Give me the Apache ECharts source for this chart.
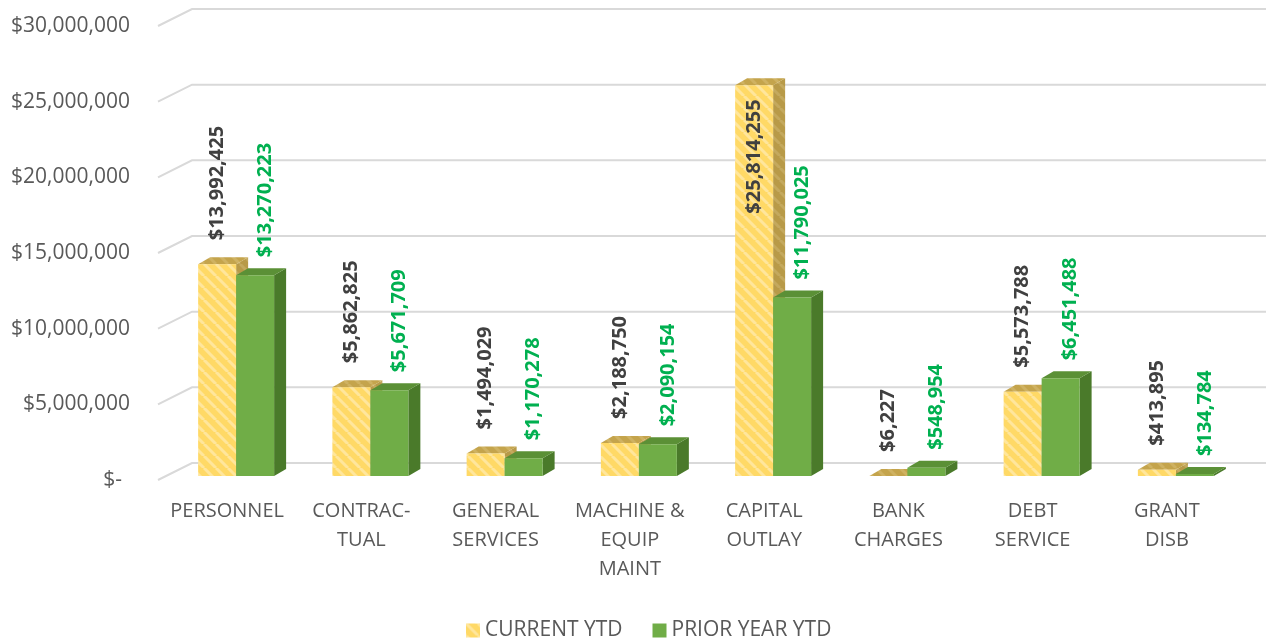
<!DOCTYPE html>
<html><head><meta charset="utf-8">
<script src="https://cdn.jsdelivr.net/npm/echarts@6/dist/echarts.min.js"></script>
<style>html,body{margin:0;padding:0;background:#fff}#c{width:1266px;height:640px}</style>
</head><body><div id="c"></div>
<script>
// ---- data ----
const categories = ['PERSONNEL', 'CONTRAC-\nTUAL', 'GENERAL\nSERVICES', 'MACHINE &\nEQUIP\nMAINT', 'CAPITAL\nOUTLAY', 'BANK\nCHARGES', 'DEBT\nSERVICE', 'GRANT\nDISB'];
const currentYTD = [13992425, 5862825, 1494029, 2188750, 25814255, 6227, 5573788, 413895];
const priorYTD = [13270223, 5671709, 1170278, 2090154, 11790025, 548954, 6451488, 134784];
const yTicks = [0, 5000000, 10000000, 15000000, 20000000, 25000000, 30000000];
const seriesNames = ['CURRENT YTD', 'PRIOR YEAR YTD'];

// ---- styles ----
const FONT = '"Open Sans", "Noto Sans", sans-serif';
function stripePattern(base, stripe, size, lw) {
  const c = document.createElement('canvas');
  c.width = c.height = size;
  const g = c.getContext('2d');
  g.fillStyle = base; g.fillRect(0, 0, size, size);
  g.strokeStyle = stripe; g.lineWidth = lw;
  g.beginPath();
  for (let k = -1; k <= 1; k++) { g.moveTo(k * size, 0); g.lineTo(k * size + size, size); }
  g.stroke();
  return { image: c, repeat: 'repeat' };
}
const yFront = stripePattern('#FFD966', '#FFE69C', 12, 3);
const ySide = stripePattern('#B89A48', '#C4A95E', 12, 3);
const yTop = stripePattern('#C4A44C', '#CFB262', 12, 3);
const styles = [
  { front: yFront, side: ySide, top: yTop, label: '#404040', lx: 0, gap: 24 },
  { front: '#70AD47', side: '#4A7A2A', top: '#5B9036', label: '#00B050', lx: 10, gap: 18 }
];
const DX = 12, DY = 7, SHIFT_Y = 4;
const measureCtx = document.createElement('canvas').getContext('2d');
const LABEL_FONT = 'bold 20px ' + FONT;

function fmt(v) { return '$' + Math.round(v).toLocaleString('en-US'); }

function barRender(si) {
  const st = styles[si];
  return function (params, api) {
    const i = api.value(0), v = api.value(1);
    const b = api.coord([i, 0]), t = api.coord([i, v]);
    const band = api.size([1, 0])[0];
    const w = band * 38 / 134.3;
    const cx = b[0] + band * 9 / 134.3;
    const x0 = si === 0 ? cx - w : cx;
    const yb = b[1] - SHIFT_Y, yt = t[1] - SHIFT_Y;
    const text = fmt(v);
    measureCtx.font = LABEL_FONT;
    const L = measureCtx.measureText(text).width;
    let ay = yt - st.gap, align = 'left';
    if (ay - L < 0) { ay = yt + 14; align = 'right'; }
    return {
      type: 'group',
      children: [
        { type: 'polygon', shape: { points: [[x0 + w, yt], [x0 + w + DX, yt - DY], [x0 + w + DX, yb - DY], [x0 + w, yb]] }, style: { fill: st.side } },
        { type: 'polygon', shape: { points: [[x0, yt], [x0 + w, yt], [x0 + w + DX, yt - DY], [x0 + DX, yt - DY]] }, style: { fill: st.top } },
        { type: 'rect', shape: { x: x0, y: yt, width: w, height: Math.max(0, yb - yt) }, style: { fill: st.front } },
        { type: 'text', x: x0 + w / 2 + st.lx, y: ay, rotation: Math.PI / 2, z2: 100,
          style: { text: text, fill: st.label, font: LABEL_FONT, align: align, verticalAlign: 'middle', textAlign: align, textVerticalAlign: 'middle' } }
      ]
    };
  };
}

const chart = echarts.init(document.getElementById('c'), null, { renderer: 'canvas' });
chart.setOption({
  animation: false,
  backgroundColor: '#ffffff',
  grid: { left: 160, right: 32, top: 26, bottom: 160, containLabel: false },
  xAxis: {
    type: 'category', data: categories,
    axisLine: { show: false }, axisTick: { show: false }, splitLine: { show: false },
    axisLabel: { interval: 0, margin: 17, color: '#595959', fontFamily: FONT, fontSize: 20, lineHeight: 29 }
  },
  yAxis: {
    type: 'value', min: 0, max: 30000000, interval: 5000000,
    axisLine: { show: false }, axisTick: { show: false }, splitLine: { show: false },
    axisLabel: {
      margin: 30, color: '#595959', fontFamily: FONT, fontSize: 21,
      formatter: function (v) { return v === 0 ? '{z|$-}' : fmt(v); },
      rich: { z: { padding: [0, 8, 0, 0], color: '#595959', fontFamily: FONT, fontSize: 21 } }
    }
  },
  legend: {
    top: 620, left: 466, padding: 0, itemWidth: 14, itemHeight: 14, itemGap: 30,
    textStyle: { fontFamily: FONT, fontSize: 21, color: '#595959' },
    data: [
      { name: seriesNames[0], icon: 'rect', itemStyle: { color: yFront } },
      { name: seriesNames[1], icon: 'rect', itemStyle: { color: '#70AD47' } }
    ]
  },
  series: [
    {
      type: 'custom', name: 'grid', silent: true, clip: false, z: 1,
      data: yTicks.map(v => [0, v]),
      renderItem: function (params, api) {
        const y = api.coord([0, api.value(1)])[1];
        const cs = params.coordSys;
        const x1 = cs.x - 2, x2 = cs.x + 32, x3 = cs.x + cs.width + 40;
        return { type: 'polyline', shape: { points: [[x1, y], [x2, y - 17], [x3, y - 17]] }, style: { stroke: '#D9D9D9', lineWidth: 2, fill: null } };
      }
    },
    {
      type: 'custom', name: seriesNames[0], clip: false, z: 2,
      itemStyle: { color: '#FFD966' },
      data: currentYTD.map((v, i) => [i, v]),
      renderItem: barRender(0)
    },
    {
      type: 'custom', name: seriesNames[1], clip: false, z: 3,
      itemStyle: { color: '#70AD47' },
      data: priorYTD.map((v, i) => [i, v]),
      renderItem: barRender(1)
    }
  ]
});
</script>
</body></html>
